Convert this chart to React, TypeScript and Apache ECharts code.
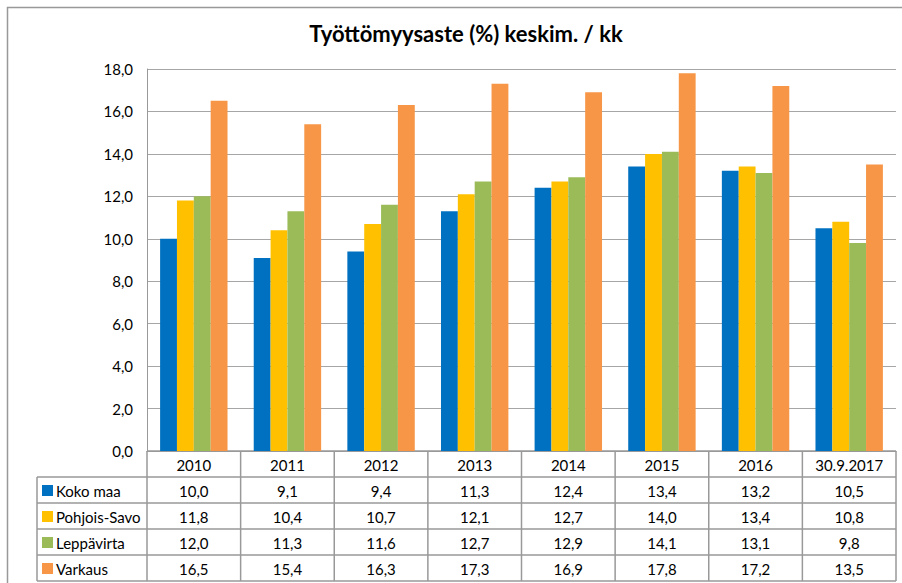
import React, { useEffect, useRef } from "react";
import * as echarts from "echarts";

const categories = ["2010", "2011", "2012", "2013", "2014", "2015", "2016", "30.9.2017"];
const seriesNames = ["Koko maa", "Pohjois-Savo", "Leppävirta", "Varkaus"];
const kokoMaa = [10.0, 9.1, 9.4, 11.3, 12.4, 13.4, 13.2, 10.5];
const pohjoisSavo = [11.8, 10.4, 10.7, 12.1, 12.7, 14.0, 13.4, 10.8];
const leppavirta = [12.0, 11.3, 11.6, 12.7, 12.9, 14.1, 13.1, 9.8];
const varkaus = [16.5, 15.4, 16.3, 17.3, 16.9, 17.8, 17.2, 13.5];
const colors = ["#0070C0", "#FFC000", "#9BBB59", "#F79646"];
const titleText = "Työttömyysaste (%) keskim. / kk";

const fmt = (v: number) => v.toFixed(1).replace(".", ",");

export default function App() {
  const ref = useRef<HTMLDivElement>(null);
  useEffect(() => {
    if (!ref.current) return;
    const chart = echarts.init(ref.current, null, { renderer: "svg" });
    const font = "Lato, 'Open Sans', sans-serif";
    const allSeries = [kokoMaa, pohjoisSavo, leppavirta, varkaus];
    const gridLeft = 147, gridRight = 896, gridTop = 69, gridBottom = 451;
    const tableLeft = 37;
    const rowH = 26;
    chart.setOption({
      animation: false,
      textStyle: { fontFamily: font },
      title: {
        text: titleText,
        left: 461,
        top: 17,
        textAlign: "center",
        textStyle: { fontFamily: font, fontSize: 22, fontWeight: "bold", color: "#000" },
      },
      grid: { left: gridLeft, right: 902 - gridRight, top: gridTop, bottom: 583 - gridBottom },
      xAxis: {
        type: "category",
        data: categories,
        axisLine: { show: true, lineStyle: { color: "#999", width: 1 } },
        axisTick: { show: false },
        axisLabel: { show: false },
      },
      yAxis: {
        type: "value",
        min: 0,
        max: 18,
        interval: 2,
        axisLine: { show: true, lineStyle: { color: "#999", width: 1 } },
        axisTick: { show: false },
        splitLine: { show: true, lineStyle: { color: "#A6A6A6", width: 1 } },
        axisLabel: {
          formatter: (v: number) => fmt(v),
          color: "#000",
          fontSize: 15,
          margin: 14,
          fontFamily: font,
        },
      },
      series: allSeries.map((d, i) => ({
        type: "bar",
        name: seriesNames[i],
        data: d,
        barGap: "0%",
        barCategoryGap: "28%",
        itemStyle: { color: colors[i] },
      })),
    });

    const xs = categories.map((_, i) => chart.convertToPixel({ xAxisIndex: 0 }, i) as number);
    const half = (gridRight - gridLeft) / categories.length / 2;
    const g: any[] = [];
    g.push({
      type: "rect",
      shape: { x: 7.5, y: 7.5, width: 920, height: 600 },
      style: { fill: "none", stroke: "#999", lineWidth: 1.5 },
      silent: true,
    });
    const lineColor = "#999";
    const tableBottom = gridBottom + rowH * 5;
    g.push({ type: "line", shape: { x1: gridLeft, y1: gridBottom, x2: gridRight, y2: gridBottom }, style: { stroke: lineColor, lineWidth: 1.5 } });
    for (let r = 1; r <= 5; r++) {
      const y = gridBottom + rowH * r;
      g.push({ type: "line", shape: { x1: tableLeft, y1: y, x2: gridRight, y2: y }, style: { stroke: lineColor, lineWidth: 1.5 } });
    }
    g.push({ type: "line", shape: { x1: tableLeft, y1: gridBottom + rowH, x2: tableLeft, y2: tableBottom }, style: { stroke: lineColor, lineWidth: 1.5 } });
    g.push({ type: "line", shape: { x1: gridLeft, y1: gridBottom, x2: gridLeft, y2: tableBottom }, style: { stroke: lineColor, lineWidth: 1.5 } });
    xs.forEach((x) => {
      g.push({ type: "line", shape: { x1: x + half, y1: gridBottom, x2: x + half, y2: tableBottom }, style: { stroke: lineColor, lineWidth: 1.5 } });
    });
    categories.forEach((c, i) => {
      g.push({
        type: "text",
        x: xs[i],
        y: gridBottom + rowH / 2 + 1,
        style: { text: c, fill: "#000", font: `15px ${font}`, align: "center", verticalAlign: "middle" },
      });
    });
    allSeries.forEach((d, r) => {
      const cy = gridBottom + rowH * (r + 1) + rowH / 2 + 1;
      g.push({ type: "rect", shape: { x: 42, y: cy - 6, width: 11, height: 11 }, style: { fill: colors[r] } });
      g.push({
        type: "text",
        x: 56,
        y: cy,
        style: { text: seriesNames[r], fill: "#000", font: `15px ${font}`, align: "left", verticalAlign: "middle" },
      });
      d.forEach((v, i) => {
        g.push({
          type: "text",
          x: xs[i],
          y: cy,
          style: { text: fmt(v), fill: "#000", font: `15px ${font}`, align: "center", verticalAlign: "middle" },
        });
      });
    });
    chart.setOption({ graphic: g });
    return () => chart.dispose();
  }, []);
  return <div ref={ref} style={{ position: "fixed", left: 0, top: 0, width: 902, height: 583, background: "#fff" }} />;
}
